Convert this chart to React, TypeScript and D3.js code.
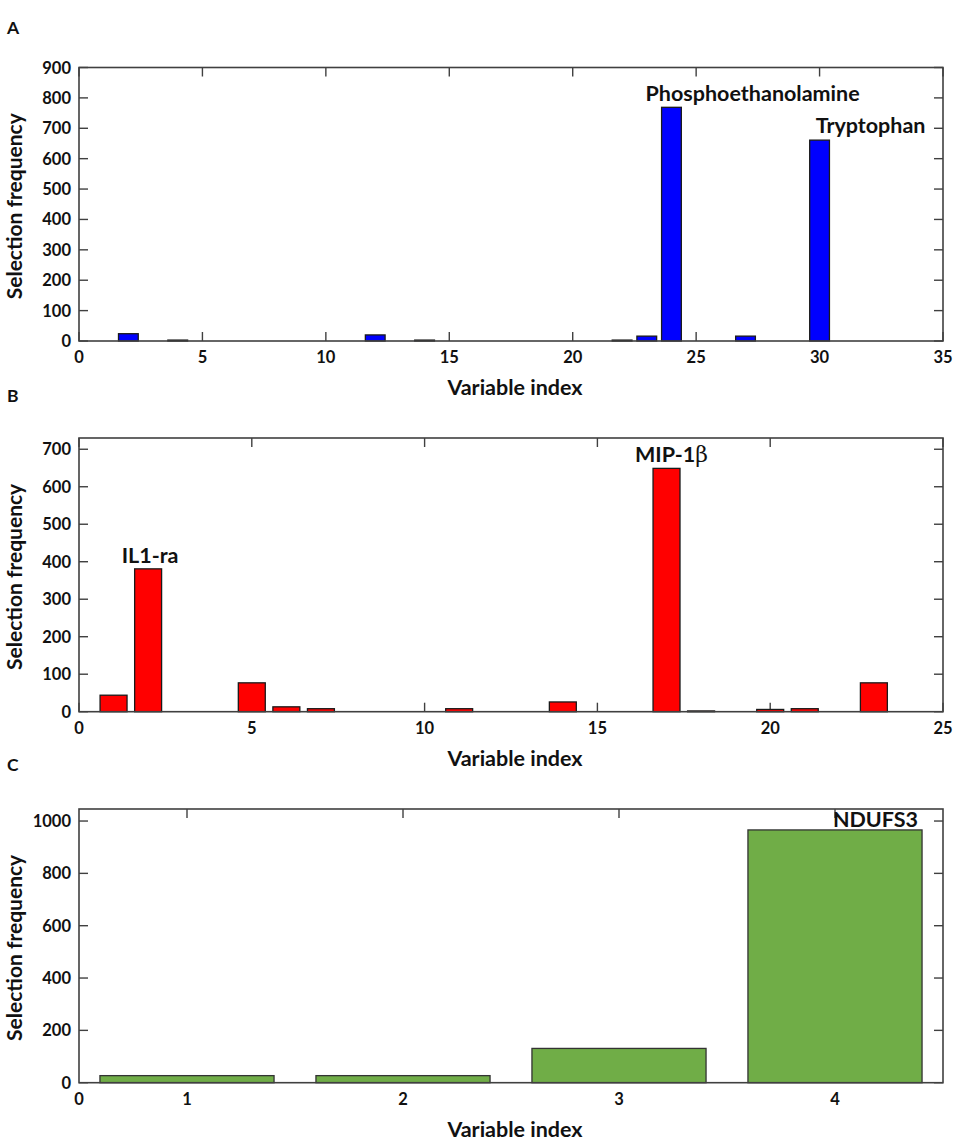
import React from "react";
import * as d3 from "d3";

// ---------- data ----------
const panelAIndex = [2, 4, 12, 14, 22, 23, 24, 27, 30];
const panelAFreq = [24, 3, 20, 3, 3, 16, 769, 16, 661];
const panelAXTicks = [0, 5, 10, 15, 20, 25, 30, 35];
const panelAYTicks = [0, 100, 200, 300, 400, 500, 600, 700, 800, 900];

const panelBIndex = [1, 2, 5, 6, 7, 11, 14, 17, 18, 20, 21, 23];
const panelBFreq = [44, 381, 77, 13, 8, 8, 26, 649, 2, 6, 8, 77];
const panelBXTicks = [0, 5, 10, 15, 20, 25];
const panelBYTicks = [0, 100, 200, 300, 400, 500, 600, 700];

const panelCIndex = [1, 2, 3, 4];
const panelCFreq = [27, 27, 131, 966];
const panelCXTicks = [1, 2, 3, 4];
const panelCYTicks = [0, 200, 400, 600, 800, 1000];

const xTitle = "Variable index";
const yTitle = "Selection frequency";

const FONT = "Lato, 'Open Sans', sans-serif";

type Ann = { label: string; beta?: boolean; at: number; anchor: "start" | "middle" | "end"; dx: number; dy: number };

type PanelProps = {
  letter: string;
  letterY: number;
  top: number;
  bottom: number;
  xDomain: [number, number];
  yDomain: [number, number];
  xTicks: number[];
  yTicks: number[];
  xExtraLabel?: { at: number; text: string };
  idx: number[];
  vals: number[];
  barWidth: number;
  fill: string;
  stroke: string;
  anns: Ann[];
  bottomTicks: boolean;
};

const LEFT = 79;
const RIGHT = 943;
const TICK = 9;
const TICKFS = 16.5;
const ANNFS = 21.5;

function Panel(p: PanelProps) {
  const x = d3.scaleLinear().domain(p.xDomain).range([LEFT, RIGHT]);
  const y = d3.scaleLinear().domain(p.yDomain).range([p.bottom, p.top]);
  const frame = "#404040";
  const bw = Math.abs(x(p.barWidth) - x(0));
  return (
    <g>
      <text x={7} y={p.letterY} fontFamily={FONT} fontWeight={700} fontSize={17.5} fill="#111">
        {p.letter}
      </text>
      {/* ticks */}
      {p.yTicks.map((t) => (
        <g key={"y" + t}>
          <line x1={LEFT} x2={LEFT + TICK} y1={y(t)} y2={y(t)} stroke={frame} strokeWidth={1.4} />
          <line x1={RIGHT} x2={RIGHT - TICK} y1={y(t)} y2={y(t)} stroke={frame} strokeWidth={1.4} />
          <text
            x={LEFT - 8}
            y={y(t)}
            textAnchor="end"
            dominantBaseline="central"
            fontFamily={FONT}
            fontWeight={700}
            fontSize={TICKFS}
            fill="#111"
          >
            {t}
          </text>
        </g>
      ))}
      {p.xTicks.map((t) => (
        <g key={"x" + t}>
          {p.bottomTicks && (
            <line x1={x(t)} x2={x(t)} y1={p.bottom} y2={p.bottom - TICK} stroke={frame} strokeWidth={1.4} />
          )}
          <line x1={x(t)} x2={x(t)} y1={p.top} y2={p.top + TICK} stroke={frame} strokeWidth={1.4} />
          <text
            x={x(t)}
            y={p.bottom + 22}
            textAnchor="middle"
            fontFamily={FONT}
            fontWeight={700}
            fontSize={TICKFS}
            fill="#111"
          >
            {t}
          </text>
        </g>
      ))}
      {p.xExtraLabel && (
        <text
          x={x(p.xExtraLabel.at)}
          y={p.bottom + 22}
          textAnchor="middle"
          fontFamily={FONT}
          fontWeight={700}
          fontSize={TICKFS}
          fill="#111"
        >
          {p.xExtraLabel.text}
        </text>
      )}
      {/* bars */}
      {p.idx.map((d, i) => (
        <rect
          key={"b" + i}
          x={x(d) - bw / 2}
          y={y(p.vals[i])}
          width={bw}
          height={y(0) - y(p.vals[i])}
          fill={p.fill}
          stroke={p.stroke}
          strokeWidth={1.3}
        />
      ))}
      {/* frame */}
      <rect x={LEFT} y={p.top} width={RIGHT - LEFT} height={p.bottom - p.top} fill="none" stroke={frame} strokeWidth={1.6} />
      {/* annotations */}
      {p.anns.map((a, i) => {
        const k = p.idx.indexOf(a.at);
        const v = p.vals[k];
        let ax = x(a.at);
        if (a.anchor === "end") ax = x(a.at) + bw / 2;
        if (a.anchor === "start") ax = x(a.at) - bw / 2;
        return (
          <text
            key={"a" + i}
            x={ax + a.dx}
            y={y(v) + a.dy}
            textAnchor={a.anchor}
            fontFamily={FONT}
            fontWeight={700}
            fontSize={ANNFS}
            fill="#111"
          >
            {a.label}
            {a.beta && (
              <tspan fontFamily="'DejaVu Serif', 'Liberation Serif', serif" fontWeight={400} fontSize={22}>
                β
              </tspan>
            )}
          </text>
        );
      })}
      {/* axis titles */}
      <text
        x={(LEFT + RIGHT) / 2 + 4}
        y={p.bottom + 54}
        textAnchor="middle"
        fontFamily={FONT}
        fontWeight={700}
        fontSize={21.5}
        fill="#111"
      >
        {xTitle}
      </text>
      <text
        transform={`translate(22,${(p.top + p.bottom) / 2 + 2}) rotate(-90)`}
        textAnchor="middle"
        fontFamily={FONT}
        fontWeight={700}
        fontSize={21}
        fill="#111"
      >
        {yTitle}
      </text>
    </g>
  );
}

export default function App() {
  return (
    <svg
      width={957}
      height={1142}
      viewBox="0 0 957 1142"
      style={{ position: "absolute", left: 0, top: 0, background: "#fff" }}
    >
      <rect width={957} height={1142} fill="#fff" />
      <Panel
        letter="A"
        letterY={33.5}
        top={67.5}
        bottom={341}
        xDomain={[0, 35]}
        yDomain={[0, 900]}
        xTicks={panelAXTicks}
        yTicks={panelAYTicks}
        idx={panelAIndex}
        vals={panelAFreq}
        barWidth={0.8}
        fill="#0000FF"
        stroke="#1a1a1a"
        bottomTicks={true}
        anns={[
          { label: "Phosphoethanolamine", at: 24, anchor: "start", dx: -16, dy: -6 },
          { label: "Tryptophan", at: 30, anchor: "start", dx: 6, dy: -7 },
        ]}
      />
      <Panel
        letter="B"
        letterY={402}
        top={438}
        bottom={711.7}
        xDomain={[0, 25]}
        yDomain={[0, 730]}
        xTicks={panelBXTicks}
        yTicks={panelBYTicks}
        idx={panelBIndex}
        vals={panelBFreq}
        barWidth={0.78}
        fill="#FF0000"
        stroke="#1a1a1a"
        bottomTicks={true}
        anns={[
          { label: "IL1-ra", at: 2, anchor: "middle", dx: 2, dy: -6 },
          { label: "MIP-1", beta: true, at: 17, anchor: "middle", dx: 5, dy: -6 },
        ]}
      />
      <Panel
        letter="C"
        letterY={771}
        top={809}
        bottom={1082.7}
        xDomain={[0.5, 4.5]}
        yDomain={[0, 1046]}
        xTicks={panelCXTicks}
        yTicks={panelCYTicks}
        xExtraLabel={{ at: 0.5, text: "0" }}
        idx={panelCIndex}
        vals={panelCFreq}
        barWidth={0.806}
        fill="#70AD47"
        stroke="#333333"
        bottomTicks={false}
        anns={[{ label: "NDUFS3", at: 4, anchor: "end", dx: -4, dy: -2.5 }]}
      />
    </svg>
  );
}
